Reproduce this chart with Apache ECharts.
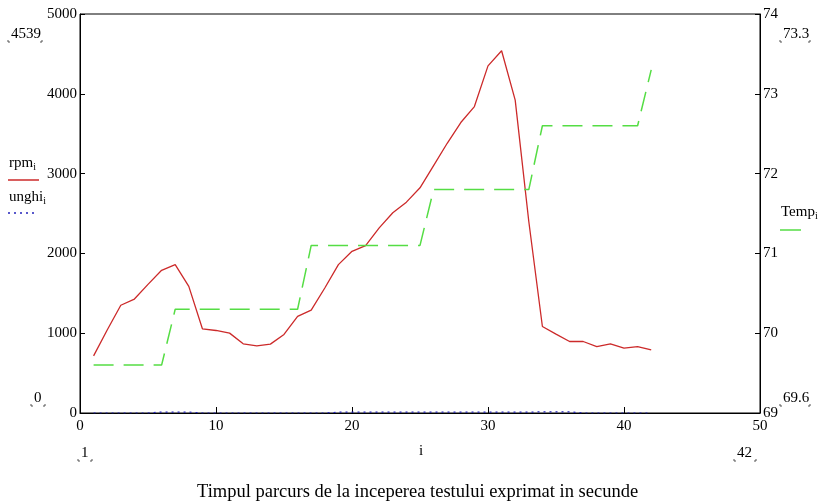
<!DOCTYPE html>
<html>
<head>
<meta charset="utf-8">
<script src="https://cdn.jsdelivr.net/npm/echarts@6/dist/echarts.min.js"></script>
<style>
  html, body { margin: 0; padding: 0; background: #fff; }
  #chart { width: 823px; height: 502px; }
</style>
</head>
<body>
<div id="chart"></div>
<script>
// indici (secunde)
var idx = [];
for (var k = 1; k <= 42; k++) idx.push(k);

// turatie motor
var rpm = [716, 1040, 1350, 1428, 1612, 1788, 1859, 1587, 1055, 1034,
  1001, 867, 842, 863, 984, 1210, 1290, 1566, 1859, 2026,
  2098, 2320, 2510, 2642, 2822, 3100, 3380, 3640, 3840, 4350,
  4539, 3920, 2400, 1084, 988, 896, 896, 833, 867, 812,
  833, 791];

// unghi clapeta (aproape zero pe scara rpm)
var unghi = [0, 0, 0, 0, 0, 12, 12, 12, 0, 0,
  0, 0, 0, 0, 0, 0, 0, 0, 10, 10,
  10, 10, 10, 10, 10, 10, 10, 10, 10, 10,
  10, 10, 10, 15, 15, 15, 0, 0, 0, 0,
  0, 0];

// temperatura
var temp = [69.6, 69.6, 69.6, 69.6, 69.6, 69.6, 70.3, 70.3, 70.3, 70.3,
  70.3, 70.3, 70.3, 70.3, 70.3, 70.3, 71.1, 71.1, 71.1, 71.1,
  71.1, 71.1, 71.1, 71.1, 71.1, 71.8, 71.8, 71.8, 71.8, 71.8,
  71.8, 71.8, 71.8, 72.6, 72.6, 72.6, 72.6, 72.6, 72.6, 72.6,
  72.6, 73.3];

function pairs(vals) {
  return idx.map(function (x, j) { return [x, vals[j]]; });
}

var font = 'Liberation Serif';
var chart = echarts.init(document.getElementById('chart'));

// eticheta de tip mathcad cu colturi mici jos
function rangeLabel(txt, x, y, w) {
  var b = y + 15;
  return [{
    type: 'text', left: x + 3, top: y,
    style: { text: txt, font: '15px ' + font, fill: '#000' }
  }, {
    type: 'polyline', shape: { points: [[x, b - 2], [x, b], [x + 2, b]] },
    style: { stroke: '#555', lineWidth: 1, fill: null }
  }, {
    type: 'polyline', shape: { points: [[x + w - 2, b], [x + w, b], [x + w, b - 2]] },
    style: { stroke: '#555', lineWidth: 1, fill: null }
  }];
}

function sub(name, x, y) {
  return {
    type: 'text', left: x, top: y,
    style: {
      text: '{a|' + name + '}{s|i}', fill: '#000',
      rich: {
        a: { fontFamily: font, fontSize: 15 },
        s: { fontFamily: font, fontSize: 10, padding: [7, 0, 0, 0] }
      }
    }
  };
}

var graphics = [].concat(
  rangeLabel('4539', 8, 27, 34),
  rangeLabel('73.3', 780, 27, 30),
  rangeLabel('0', 31, 391, 14),
  rangeLabel('69.6', 780, 391, 30),
  rangeLabel('1', 78, 446, 14),
  rangeLabel('42', 734, 446, 22),
  [
    sub('rpm', 9, 156),
    { type: 'line', shape: { x1: 8, y1: 180, x2: 39, y2: 180 }, style: { stroke: '#cc2a2a', lineWidth: 1.5 } },
    sub('unghi', 9, 190),
    { type: 'line', shape: { x1: 8, y1: 213, x2: 34, y2: 213 }, style: { stroke: '#2222bb', lineWidth: 1.5, lineDash: [2, 4] } },
    sub('Temp', 781, 205),
    { type: 'line', shape: { x1: 780, y1: 230, x2: 801, y2: 230 }, style: { stroke: '#55dd44', lineWidth: 1.5 } },
    { type: 'text', left: 419, top: 444, style: { text: 'i', font: '15px ' + font, fill: '#000' } },
    {
      type: 'text', left: 197, top: 483,
      style: { text: 'Timpul parcurs de la inceperea testului exprimat in secunde', font: '18.5px ' + font, fill: '#000' }
    }
  ]
);

var option = {
  animation: false,
  backgroundColor: '#fff',
  grid: {
    left: 80, right: 63, top: 14, bottom: 89,
    show: true, borderColor: '#000', borderWidth: 1
  },
  xAxis: {
    type: 'value', min: 0, max: 50, interval: 10,
    axisLine: { lineStyle: { color: '#000' } },
    axisTick: { inside: true, length: 6, lineStyle: { color: '#000' } },
    axisLabel: { color: '#000', fontFamily: font, fontSize: 15, margin: 6 },
    splitLine: { show: false }
  },
  yAxis: [{
    type: 'value', min: 0, max: 5000, interval: 1000,
    axisLine: { show: true, lineStyle: { color: '#000' } },
    axisTick: { show: true, inside: true, length: 5, lineStyle: { color: '#000' } },
    axisLabel: {
      color: '#000', fontFamily: font, fontSize: 15, margin: 3,
      formatter: function (v) { return String(v); }
    },
    splitLine: { show: false }
  }, {
    type: 'value', min: 69, max: 74, interval: 1,
    axisLine: { show: true, lineStyle: { color: '#000' } },
    axisTick: { show: true, inside: true, length: 5, lineStyle: { color: '#000' } },
    axisLabel: { color: '#000', fontFamily: font, fontSize: 15, margin: 3 },
    splitLine: { show: false }
  }],
  series: [{
    name: 'rpm', type: 'line', yAxisIndex: 0, data: pairs(rpm),
    symbol: 'none', lineStyle: { color: '#cc2a2a', width: 1.3 }
  }, {
    name: 'unghi', type: 'line', yAxisIndex: 0, data: pairs(unghi),
    symbol: 'none', lineStyle: { color: '#2222bb', width: 1.2, type: [2, 4] }
  }, {
    name: 'Temp', type: 'line', yAxisIndex: 1, data: pairs(temp),
    symbol: 'none', lineStyle: { color: '#55dd44', width: 1.5, type: [20, 10] }
  }],
  graphic: graphics
};
chart.setOption(option);
</script>
</body>
</html>
